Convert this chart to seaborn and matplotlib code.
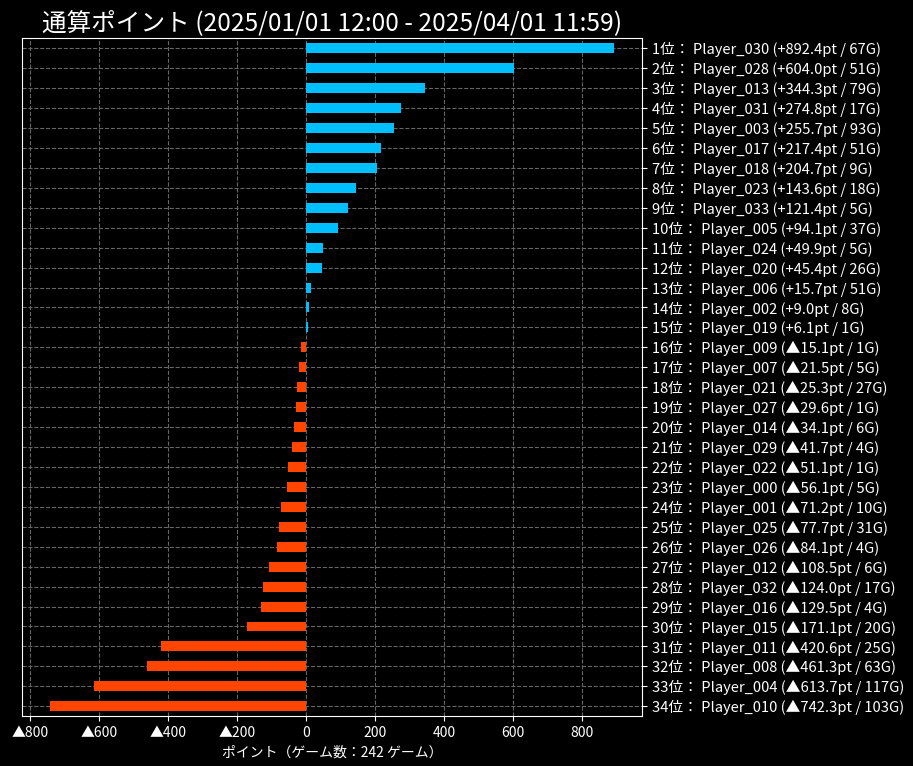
import matplotlib
matplotlib.use("Agg")
import matplotlib.pyplot as plt
import seaborn as sns
import pandas as pd
from matplotlib.ticker import FuncFormatter

players = ["Player_030", "Player_028", "Player_013", "Player_031", "Player_003",
           "Player_017", "Player_018", "Player_023", "Player_033", "Player_005",
           "Player_024", "Player_020", "Player_006", "Player_002", "Player_019",
           "Player_009", "Player_007", "Player_021", "Player_027", "Player_014",
           "Player_029", "Player_022", "Player_000", "Player_001", "Player_025",
           "Player_026", "Player_012", "Player_032", "Player_016", "Player_015",
           "Player_011", "Player_008", "Player_004", "Player_010"]
points = [892.4, 604.0, 344.3, 274.8, 255.7, 217.4, 204.7, 143.6, 121.4, 94.1,
          49.9, 45.4, 15.7, 9.0, 6.1, -15.1, -21.5, -25.3, -29.6, -34.1,
          -41.7, -51.1, -56.1, -71.2, -77.7, -84.1, -108.5, -124.0, -129.5, -171.1,
          -420.6, -461.3, -613.7, -742.3]
games = [67, 51, 79, 17, 93, 51, 9, 18, 5, 37,
         5, 26, 51, 8, 1, 1, 5, 27, 1, 6,
         4, 1, 5, 10, 31, 4, 6, 17, 4, 20,
         25, 63, 117, 103]
total_games = 242
title = "通算ポイント (2025/01/01 12:00 - 2025/04/01 11:59)"


def fmt_pt(v):
    return f"+{v:.1f}" if v >= 0 else f"▲{abs(v):.1f}"


labels = [f"{i + 1}位： {p} ({fmt_pt(v)}pt / {g}G)"
          for i, (p, v, g) in enumerate(zip(players, points, games))]
df = pd.DataFrame({"label": labels, "point": points})
df["sign"] = ["plus" if v >= 0 else "minus" for v in points]

plt.style.use("dark_background")
plt.rcParams["font.family"] = ["Noto Sans CJK JP", "DejaVu Sans"]
plt.rcParams["font.size"] = 10

fig = plt.figure(figsize=(9.13, 7.66), dpi=100)
ax = fig.add_axes([0.024, 0.065, 0.679, 0.885])

sns.barplot(data=df, x="point", y="label", hue="sign", orient="h",
            palette={"plus": "deepskyblue", "minus": "orangered"},
            saturation=1, width=0.5, dodge=False, legend=False, ax=ax, zorder=3)

ax.set_xlim(-824, 974)
ax.grid(True, linestyle="--", color="#666666", linewidth=0.8, zorder=0)
ax.set_axisbelow(True)
ax.yaxis.tick_right()
ax.set_ylabel("")
ax.set_xlabel(f"ポイント（ゲーム数：{total_games} ゲーム）", fontsize=10)
ax.xaxis.set_major_formatter(FuncFormatter(
    lambda v, _: f"{int(v)}" if v >= 0 else f"▲{int(abs(v))}"))
ax.tick_params(axis="x", labelsize=10, colors="white")
ax.tick_params(axis="y", labelsize=10.6, colors="white")
for s in ax.spines.values():
    s.set_color("white")
ax.set_title(title, fontsize=17.7, color="white")

fig.savefig("out.png", dpi=100, facecolor="black")
